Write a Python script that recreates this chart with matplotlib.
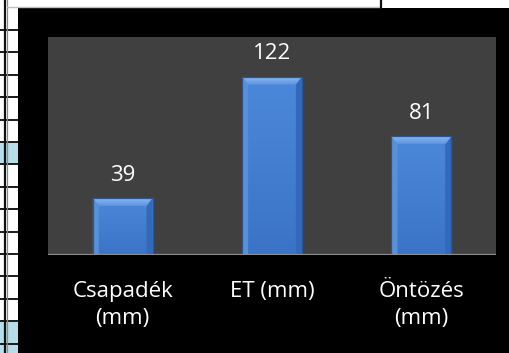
import numpy as np
import matplotlib
matplotlib.use("Agg")
import matplotlib.pyplot as plt
from matplotlib.patches import Rectangle, Polygon

categories = ["Csapadék\n(mm)", "ET (mm)", "Öntözés\n(mm)"]
values = [39, 122, 81]

W, H, DPI = 510, 353, 100
plt.rcParams['font.family'] = ['Open Sans', 'DejaVu Sans']

fig = plt.figure(figsize=(W / DPI, H / DPI), dpi=DPI, facecolor="white")

# worksheet behind the chart (pixel coordinates)
bg = fig.add_axes([0, 0, 1, 1], zorder=0)
bg.set_xlim(0, W)
bg.set_ylim(H, 0)
bg.axis("off")
for y0, y1 in [(142, 164.5), (321.5, 353)]:
    bg.add_patch(Rectangle((0, y0), 18, y1 - y0, color="#b7dde8", lw=0))
for y in np.arange(30, H, 22.4):
    bg.plot([0, 18], [y, y], color="#1a1a1a", lw=1.4, solid_capstyle="butt")
bg.plot([4.7, 4.7], [0, H], color="#111111", lw=1.6)
bg.plot([6.6, 6.6], [0, H], color="#8a8a8a", lw=0.9)
bg.plot([7, 380], [7, 7], color="#c0c0c0", lw=1.0)
bg.plot([381, 381], [0, 7.5], color="#111111", lw=1.6)
bg.add_patch(Rectangle((18, 7.5), W - 18, H - 7.5, color="black", lw=0))

# plot area
left, right, top, bottom = 48, 496, 37, 255
ax = fig.add_axes([left / W, 1 - bottom / H, (right - left) / W, (bottom - top) / H], zorder=1)
ax.set_facecolor("#404040")
for s in ax.spines.values():
    s.set_visible(False)
ax.axhline(0, color="#8c8c8c", lw=1.6, zorder=5)

x = np.arange(len(values))
bw = 0.4
ymax = 149
ax.set_xlim(-0.5, len(values) - 0.5)
ax.set_ylim(0, ymax)
ax.set_yticks([])
ax.set_xticks(x, categories)
ax.tick_params(axis="x", length=0, pad=18.5, labelcolor="white", labelsize=16)
for lab in ax.get_xticklabels():
    lab.set_linespacing(1.42)

bars = ax.bar(x, values, width=bw, color="#4380d4", edgecolor="#2a558f", lw=0.8, zorder=2)

# bevel sizes converted from pixels to data units
px_x = (len(values)) / (right - left)
px_y = ymax / (bottom - top)
sx, sy = 6 * px_x, 8 * px_y
grad = np.linspace(0, 1, 64).reshape(-1, 1)
face = matplotlib.colors.LinearSegmentedColormap.from_list("f", ["#3b74c6", "#4c88da"])
top_c = matplotlib.colors.LinearSegmentedColormap.from_list("t", ["#5c93e0", "#8ab8f2"])
for b, v in zip(bars, values):
    x0 = b.get_x()
    x1 = x0 + b.get_width()
    im = ax.imshow(grad, extent=(x0, x1, 0, v), origin="lower", aspect="auto",
                   cmap=face, zorder=2.1)
    im.set_clip_path(b)
    ax.add_patch(Polygon([(x0, 0), (x0, v), (x0 + sx, v - sy), (x0 + sx, 0)],
                         color="#5790dc", lw=0, zorder=2.2))
    ax.add_patch(Polygon([(x1, 0), (x1, v), (x1 - sx, v - sy), (x1 - sx, 0)],
                         color="#3468b8", lw=0, zorder=2.2))
    bevel = Polygon([(x0, v), (x1, v), (x1 - sx, v - sy), (x0 + sx, v - sy)],
                    color="none", lw=0, zorder=2.3)
    ax.add_patch(bevel)
    tim = ax.imshow(grad, extent=(x0, x1, v - sy, v), origin="lower", aspect="auto",
                    cmap=top_c, zorder=2.3)
    tim.set_clip_path(bevel)
    ax.add_patch(Rectangle((x0, 0), x1 - x0, v, fill=False, ec="#2a558f", lw=0.9, zorder=2.4))
    ax.annotate(str(v), (b.get_x() + b.get_width() / 2, v), xytext=(0, 12.5),
                textcoords="offset points", ha="center", va="baseline",
                color="white", fontsize=16)

ax.set_xlim(-0.5, len(values) - 0.5)
ax.set_ylim(0, ymax)

fig.savefig("out.png", dpi=DPI)
